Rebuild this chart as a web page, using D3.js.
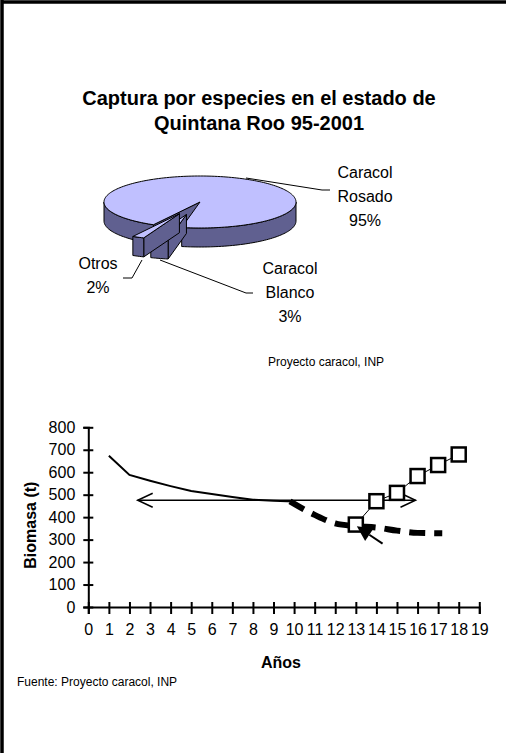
<!DOCTYPE html>
<html>
<head>
<meta charset="utf-8">
<script src="https://cdn.jsdelivr.net/npm/d3@7"></script>
<style>
  body { margin: 0; background: #fff; }
  text { font-family: Arial, "Liberation Sans", sans-serif; fill: #000; }
</style>
</head>
<body>
<svg id="chart" width="506" height="753"></svg>
<script>
// ---- data ----
const titleLines = ["Captura por especies en el estado de", "Quintana Roo 95-2001"];
const pieNames = ["Caracol Rosado", "Caracol Blanco", "Otros"];
const pieValues = [95, 3, 2];
const pieLabelLines = [["Caracol", "Rosado", "95%"], ["Caracol", "Blanco", "3%"], ["Otros", "2%"]];

const yearTicks = d3.range(0, 20);            // 0..19
const biomasaTicks = [0, 100, 200, 300, 400, 500, 600, 700, 800];

const solidYears = [1, 2, 3, 4, 5, 6, 7, 8, 9, 10];
const solidValues = [673, 588, 562, 538, 516, 503, 490, 478, 473, 470];

const dashedYears = [9.8, 11, 12, 13, 14, 15, 16, 17.2];
const dashedValues = [470, 410, 372, 360, 354, 340, 330, 328];

const squareYears = [13, 14, 15, 16, 17, 18];
const squareValues = [367, 471, 508, 583, 632, 679];

const arrowYears = [2.4, 15.9];   // double headed arrow span
const arrowLevel = 475;
const pointerFrom = [14.3, 282];  // filled arrow tail (year, t)
const pointerTo = [13.05, 359];   // filled arrow tip

const svg = d3.select("#chart");

// frame
svg.append("line").attr("x1", 3).attr("x2", 506).attr("y1", 2).attr("y2", 2)
  .attr("stroke", "#000").attr("stroke-width", 3.5);
svg.append("line").attr("x1", 2).attr("x2", 2).attr("y1", 0).attr("y2", 753)
  .attr("stroke", "#000").attr("stroke-width", 3.5);

// title
svg.selectAll("text.title").data(titleLines).enter().append("text")
  .attr("class", "title")
  .attr("x", 259).attr("y", (d, i) => 105 + i * 25)
  .attr("text-anchor", "middle")
  .style("font-size", "20px").style("font-weight", "bold")
  .text(d => d);

// ---- 3D pie ----
const cx = 200, cy = 202, rx = 96, ry = 26, depth = 19;
const topFill = "#c0c0ff", sideFill = "#606090";

const pie = d3.pie().sort(null)
  .startAngle(-151 * Math.PI / 180).endAngle(209 * Math.PI / 180);
const arcs = pie(pieValues);

// convert d3 angle (from 12 o'clock, clockwise) to screen angle
const scr = a => a - Math.PI / 2;
const pt = (t, ox, oy, dz) => [ox + rx * Math.cos(t), oy + ry * Math.sin(t) + (dz || 0)];

function arcPts(t0, t1, ox, oy, dz) {
  const n = Math.max(2, Math.ceil(Math.abs(t1 - t0) / 0.03));
  return d3.range(n + 1).map(i => pt(t0 + (t1 - t0) * i / n, ox, oy, dz));
}

const line = d3.line();
const pieG = svg.append("g");

function drawSlice(a, explode) {
  const t0 = scr(a.startAngle), t1 = scr(a.endAngle), tm = (t0 + t1) / 2;
  const ox = cx + explode * rx * Math.cos(tm);
  const oy = cy + explode * ry * Math.sin(tm);
  const g = pieG.append("g");
  // radial wall at start edge (faces viewer for this layout)
  const e0 = pt(t0, ox, oy);
  g.append("path")
    .attr("d", line([[ox, oy], e0, [e0[0], e0[1] + depth], [ox, oy + depth]]) + "Z")
    .attr("fill", sideFill).attr("stroke", "#000").attr("stroke-width", 1);
  // front outer walls
  const full = 2 * Math.PI;
  for (let k = -1; k <= 1; k++) {
    const lo = Math.max(t0, k * full), hi = Math.min(t1, k * full + Math.PI);
    if (hi > lo) {
      const topP = arcPts(lo, hi, ox, oy, 0);
      const botP = arcPts(hi, lo, ox, oy, depth);
      g.append("path").attr("d", line(topP.concat(botP)) + "Z")
        .attr("fill", sideFill).attr("stroke", "#000").attr("stroke-width", 1);
    }
  }
  // top face
  g.append("path").attr("d", line([[ox, oy]].concat(arcPts(t0, t1, ox, oy, 0))) + "Z")
    .attr("fill", topFill).attr("stroke", "#000").attr("stroke-width", 1);
}

drawSlice(arcs[0], 0);
drawSlice(arcs[1], 0.5);
drawSlice(arcs[2], 0.5);

// leader lines
const leaders = [
  [[246, 178], [322, 190], [330, 190]],
  [[160, 260], [246, 293], [253, 293]],
  [[142, 260], [132, 278], [123, 278]]
];
pieG.selectAll("path.leader").data(leaders).enter().append("path")
  .attr("class", "leader").attr("d", d => line(d))
  .attr("fill", "none").attr("stroke", "#000").attr("stroke-width", 1);

const labelPos = [[365, 178], [290, 274], [98, 269]];
pieLabelLines.forEach((lines, i) => {
  svg.append("text")
    .attr("x", labelPos[i][0]).attr("y", labelPos[i][1])
    .attr("text-anchor", "middle").style("font-size", "16px")
    .selectAll("tspan").data(lines).enter().append("tspan")
    .attr("x", labelPos[i][0]).attr("dy", (d, j) => j === 0 ? 0 : 24)
    .text(d => d);
});

svg.append("text").attr("x", 268).attr("y", 366).style("font-size", "12px")
  .text("Proyecto caracol, INP");

// ---- line chart ----
const x = d3.scaleLinear().domain([0, 19]).range([88.3, 479.3]);
const y = d3.scaleLinear().domain([0, 800]).range([607, 427.3]);

const yAxis = svg.append("g").attr("transform", `translate(${x(0)},0)`)
  .call(d3.axisLeft(y).tickValues(biomasaTicks).tickSize(5).tickPadding(8));
const xAxis = svg.append("g").attr("transform", `translate(0,${y(0)})`)
  .call(d3.axisBottom(x).tickValues(yearTicks).tickSize(7).tickPadding(10).tickFormat(d3.format("d")));
[yAxis, xAxis].forEach(ax => {
  ax.select(".domain").attr("stroke-width", 2);
  ax.selectAll(".tick line").attr("stroke-width", 2);
  ax.selectAll("text").style("font-size", "16px").attr("font-family", null);
});
// inner halves of the crossing ticks
yAxis.selectAll(".tick").append("line").attr("x2", 5).attr("stroke", "#000").attr("stroke-width", 2);
xAxis.selectAll(".tick").append("line").attr("y2", -5).attr("stroke", "#000").attr("stroke-width", 2);

svg.append("text")
  .attr("transform", `translate(36,${(y(0) + y(800)) / 2 + 8}) rotate(-90)`)
  .attr("text-anchor", "middle").style("font-size", "16px").style("font-weight", "bold")
  .text("Biomasa (t)");
svg.append("text").attr("x", 281).attr("y", 668).attr("text-anchor", "middle")
  .style("font-size", "16px").style("font-weight", "bold").text("Años");

const lineXY = d3.line().x(d => x(d[0])).y(d => y(d[1]));

svg.append("path").datum(d3.zip(solidYears, solidValues))
  .attr("d", lineXY)
  .attr("fill", "none").attr("stroke", "#000").attr("stroke-width", 2);

// double headed arrow
const ax0 = x(arrowYears[0]), ax1 = x(arrowYears[1]), ay = y(arrowLevel);
svg.append("line").attr("x1", ax0).attr("x2", ax1).attr("y1", ay).attr("y2", ay)
  .attr("stroke", "#000").attr("stroke-width", 1.5);
svg.append("path").attr("d", `M${ax0 + 15},${ay - 7}L${ax0},${ay}L${ax0 + 15},${ay + 7}`)
  .attr("fill", "none").attr("stroke", "#000").attr("stroke-width", 1.5);
svg.append("path").attr("d", `M${ax1 - 15},${ay - 7}L${ax1},${ay}L${ax1 - 15},${ay + 7}`)
  .attr("fill", "none").attr("stroke", "#000").attr("stroke-width", 1.5);

svg.append("path").datum(d3.zip(dashedYears, dashedValues))
  .attr("d", d3.line().x(d => x(d[0])).y(d => y(d[1])).curve(d3.curveMonotoneX))
  .attr("fill", "none").attr("stroke", "#000").attr("stroke-width", 6)
  .attr("stroke-dasharray", "16,9");

// squares series
svg.append("path").datum(d3.zip(squareYears, squareValues))
  .attr("d", lineXY)
  .attr("fill", "none").attr("stroke", "#000").attr("stroke-width", 1);
svg.selectAll("rect.sq").data(d3.zip(squareYears, squareValues)).enter().append("rect")
  .attr("class", "sq")
  .attr("x", d => x(d[0]) - 7).attr("y", d => y(d[1]) - 7)
  .attr("width", 14).attr("height", 14)
  .attr("fill", "#fff").attr("stroke", "#000").attr("stroke-width", 2.5);

// filled pointer arrow
const p0 = [x(pointerFrom[0]), y(pointerFrom[1])], p1 = [x(pointerTo[0]), y(pointerTo[1])];
const ang = Math.atan2(p1[1] - p0[1], p1[0] - p0[0]);
const hl = 15, hw = 7.5;
const base = [p1[0] - hl * Math.cos(ang), p1[1] - hl * Math.sin(ang)];
svg.append("line").attr("x1", p0[0]).attr("y1", p0[1]).attr("x2", base[0]).attr("y2", base[1])
  .attr("stroke", "#000").attr("stroke-width", 2);
svg.append("path").attr("d", line([p1,
  [base[0] + hw * Math.sin(ang), base[1] - hw * Math.cos(ang)],
  [base[0] - hw * Math.sin(ang), base[1] + hw * Math.cos(ang)]]) + "Z")
  .attr("fill", "#000");

svg.append("text").attr("x", 17).attr("y", 686).style("font-size", "12px")
  .text("Fuente: Proyecto caracol, INP");
</script>
</body>
</html>
